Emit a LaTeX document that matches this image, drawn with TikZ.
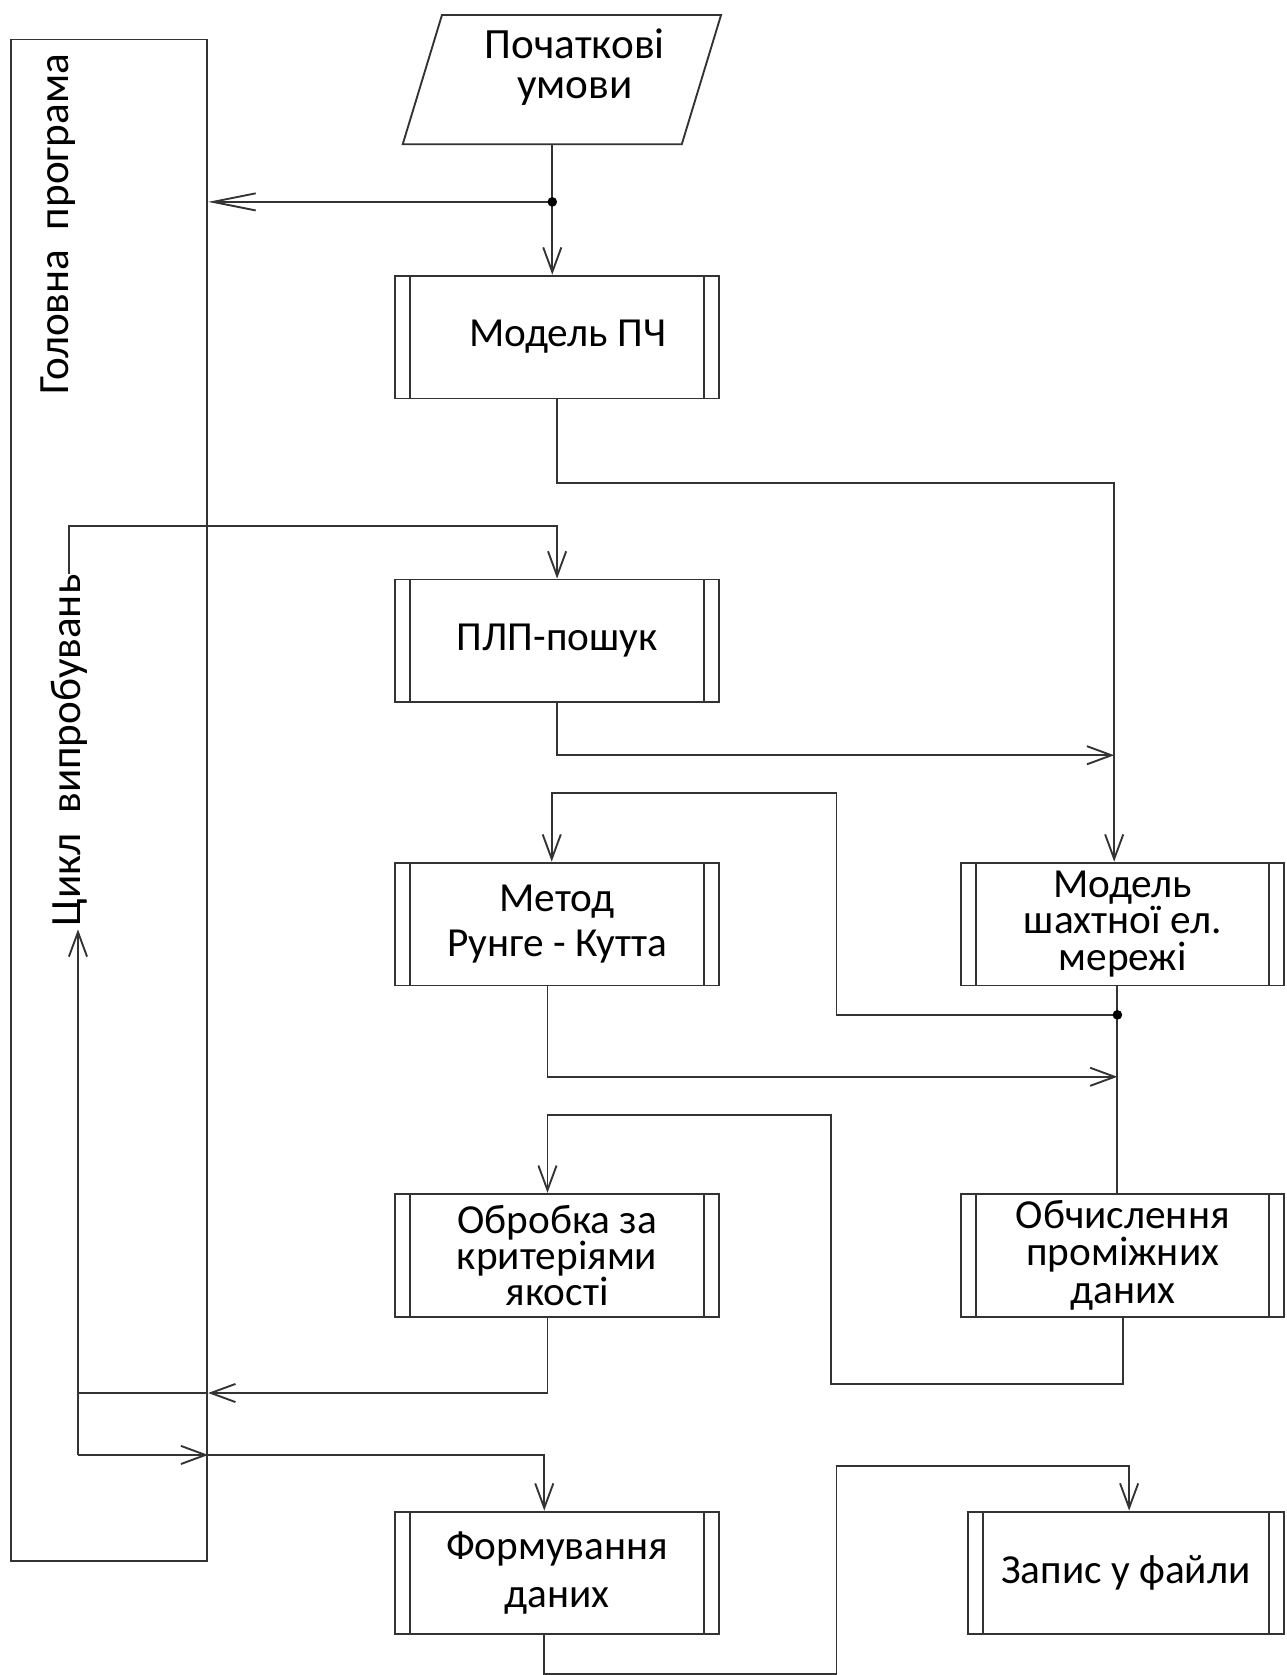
\documentclass[tikz,border=0pt]{standalone}
\usepackage{fontspec}
\setmainfont{Carlito}
\usepackage{tikz}
\usetikzlibrary{arrows.meta, positioning, shapes.geometric}

\begin{document}
\begin{tikzpicture}[
    line width=0.5pt, draw=black!80,
    every node/.style={font=\fontsize{11}{9.6}\selectfont, align=center, inner sep=0pt}, % plain text
    subproc/.style={draw, rectangle, minimum width=3.03cm, minimum height=1.15cm,
        path picture={
            \draw ([xshift=0.14cm]path picture bounding box.north west) -- ([xshift=0.14cm]path picture bounding box.south west);
            \draw ([xshift=-0.14cm]path picture bounding box.north east) -- ([xshift=-0.14cm]path picture bounding box.south east);
        }}, % predefined process box
    inout/.style={draw, trapezium, trapezium left angle=69, trapezium right angle=111, trapezium stretches body, minimum width=2.98cm, minimum height=1.21cm},
    edge/.style={-{Straight Barb[length=0.23cm, width=0.17cm]}},
    longedge/.style={-{Straight Barb[length=0.4cm, width=0.16cm]}}
]
\useasboundingbox (0,0) rectangle (12.04,-15.68);

% Nodes
\node[inout, font=\fontsize{11.5}{10.8}\selectfont, text depth=0.3cm] (start) at (5.26,-0.745) {\hspace*{0.24cm}Початкові\\\hspace*{0.24cm}умови};
\node[draw, minimum width=1.84cm, minimum height=14.24cm] (mainprog) at (1.02,-7.49) {};
\node[rotate=90, font=\fontsize{11.5}{12}\selectfont] (maintitle) at (0.54,-2.10) {Головна\ \ програма};
\node[rotate=90, font=\fontsize{11.5}{12}\selectfont] (cycle) at (0.65,-7.025) {Цикл\ \ випробувань};
\node[subproc] (pch) at (5.215,-3.155) {\hspace*{0.2cm}Модель ПЧ};
\node[subproc] (plp) at (5.215,-6.00) {ПЛП-пошук};
\node[subproc, font=\fontsize{11}{12}\selectfont] (rk) at (5.215,-8.65) {Метод\\Рунге - Кутта};
\node[subproc, minimum width=3.02cm] (grid) at (10.51,-8.65) {Модель\\шахтної ел.\\мережі};
\node[subproc] (crit) at (5.215,-11.75) {Обробка за\\критеріями\\якості};
\node[subproc, minimum width=3.02cm, font=\fontsize{11}{10}\selectfont] (calc) at (10.51,-11.75) {Обчислення\\проміжних\\даних};
\node[subproc, font=\fontsize{11}{12.8}\selectfont] (form) at (5.215,-14.725) {Формування\\даних};
\node[subproc, minimum width=2.96cm] (save) at (10.54,-14.725) {Запис у файли};

% Junctions and loop ends
\coordinate (j1) at (5.17,-1.89);
\coordinate (j2) at (10.46,-9.50);
\coordinate (trunk) at (10.43,-4.52);
\coordinate (backL) at (0.73,-13.04);
\coordinate (fwdL) at (0.73,-13.62);
\coordinate (cycleup) at (0.73,-8.70);

% Edges
\draw (start.south -| j1) -- (j1);
\draw[edge] (j1) -- (pch.north -| j1);
\draw[longedge] (j1) -- (j1 -| mainprog.east);
\draw[edge] (pch.south) -- (pch.south |- trunk) -- (trunk) -- (trunk |- grid.north);
\draw[edge] (cycle.east) -- (cycle.east |- 0,-4.92) -| (plp.north);
\draw[edge] (plp.south) |- (trunk |- 0,-7.07);
\draw (grid.south -| j2) -- (calc.north -| j2);
\draw[edge] (j2) -| (7.83,-7.42) -| ([xshift=-0.05cm]rk.north);
\draw[edge] ([xshift=-0.09cm]rk.south) |- (j2 |- 0,-10.08);
\draw[edge] (calc.south) -- ++(0,-0.62) -| (7.78,-10.44) -| ([xshift=-0.09cm]crit.north);
\draw[edge] ([xshift=-0.09cm]crit.south) |- (mainprog.east |- backL);
\draw (mainprog.east |- backL) -- (backL);
\draw[edge] (fwdL) -- (cycleup);
\draw[edge] (fwdL) -- (mainprog.east |- fwdL);
\draw[edge] (mainprog.east |- fwdL) -| ([xshift=-0.12cm]form.north);
\draw[edge] ([xshift=-0.12cm]form.south) -- ++(0,-0.36) -| (7.83,-13.72) -| ([xshift=0.03cm]save.north);

\fill (j1) circle (0.045);
\fill (j2) circle (0.045);

\end{tikzpicture}
\end{document}
